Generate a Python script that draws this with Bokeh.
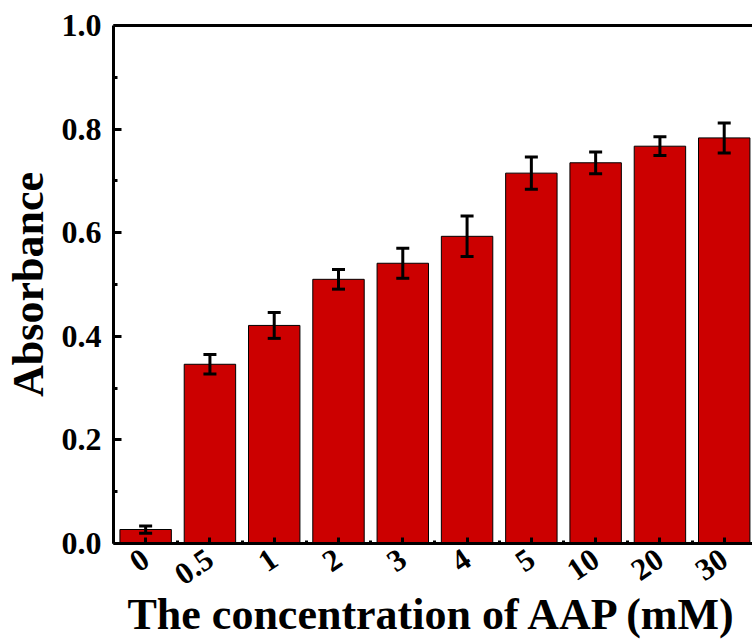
from bokeh.plotting import figure
from bokeh.models import Range1d, FixedTicker, PrintfTickFormatter, LinearAxis, Whisker, ColumnDataSource, TeeHead
from bokeh.embed import file_html
from bokeh.resources import INLINE

categories = ["0", "0.5", "1", "2", "3", "4", "5", "10", "20", "30"]
absorbance = [0.027, 0.346, 0.421, 0.510, 0.541, 0.593, 0.715, 0.735, 0.767, 0.783]
errors = [0.007, 0.019, 0.025, 0.019, 0.029, 0.039, 0.031, 0.021, 0.018, 0.029]
y_ticks = [0.0, 0.2, 0.4, 0.6, 0.8, 1.0]
y_minor = [0.1, 0.3, 0.5, 0.7, 0.9]

xs = list(range(len(categories)))
src = ColumnDataSource(dict(
    x=xs, top=absorbance,
    upper=[a + e for a, e in zip(absorbance, errors)],
    lower=[a - e for a, e in zip(absorbance, errors)],
))

FONT = "Liberation Serif"

p = figure(width=752, height=641, output_backend="svg", toolbar_location=None,
           x_range=Range1d(-0.5, 9.44), y_range=Range1d(0, 1.0),
           min_border_left=0, min_border_right=0, min_border_top=0, min_border_bottom=0)
p.outline_line_color = None
p.grid.visible = False
p.background_fill_color = "white"

p.vbar(x="x", top="top", bottom=0, width=0.8, source=src,
       fill_color="#CC0000", line_color="black", line_width=1)

w = Whisker(base="x", upper="upper", lower="lower", source=src,
            line_color="black", line_width=3, level="overlay",
            upper_head=TeeHead(size=13, line_color="black", line_width=3),
            lower_head=TeeHead(size=13, line_color="black", line_width=3))
p.add_layout(w)

# x axis
xa = p.xaxis[0]
xa.ticker = FixedTicker(ticks=xs, minor_ticks=[i - 0.5 for i in range(len(categories) + 1)])
xa.major_label_overrides = {i: c for i, c in enumerate(categories)}
xa.major_label_orientation = 0.6
xa.axis_line_width = 3
xa.major_tick_in = 6
xa.major_tick_out = 0
xa.major_tick_line_width = 3
xa.minor_tick_in = 3
xa.minor_tick_out = 0
xa.minor_tick_line_width = 3
xa.major_label_text_font = FONT
xa.major_label_text_font_style = "bold"
xa.major_label_text_font_size = "31px"
xa.major_label_text_color = "black"
xa.major_label_standoff = 12
xa.axis_label = "The concentration of AAP (mM)"
xa.axis_label_text_font = FONT
xa.axis_label_text_font_style = "bold"
xa.axis_label_text_font_size = "44px"
xa.axis_label_text_color = "black"
xa.axis_label_standoff = -8

# y axis
ya = p.yaxis[0]
ya.ticker = FixedTicker(ticks=y_ticks, minor_ticks=y_minor)
ya.formatter = PrintfTickFormatter(format="%.1f")
ya.axis_line_width = 3
ya.major_tick_in = 8
ya.major_tick_out = 0
ya.major_tick_line_width = 3
ya.minor_tick_in = 4
ya.minor_tick_out = 0
ya.minor_tick_line_width = 3
ya.major_label_text_font = FONT
ya.major_label_text_font_style = "bold"
ya.major_label_text_font_size = "32px"
ya.major_label_text_color = "black"
ya.major_label_standoff = 12
ya.axis_label = "Absorbance"
ya.axis_label_text_font = FONT
ya.axis_label_text_font_style = "bold"
ya.axis_label_text_font_size = "44px"
ya.axis_label_text_color = "black"
ya.axis_label_standoff = 6

top = LinearAxis(ticker=FixedTicker(ticks=[]), major_label_text_font_size="0px",
                 axis_line_width=3, major_tick_in=0, major_tick_out=0,
                 minor_tick_in=0, minor_tick_out=0)
p.add_layout(top, "above")
p.min_border_top = 25

open("out.html", "w").write(file_html(p, INLINE))
